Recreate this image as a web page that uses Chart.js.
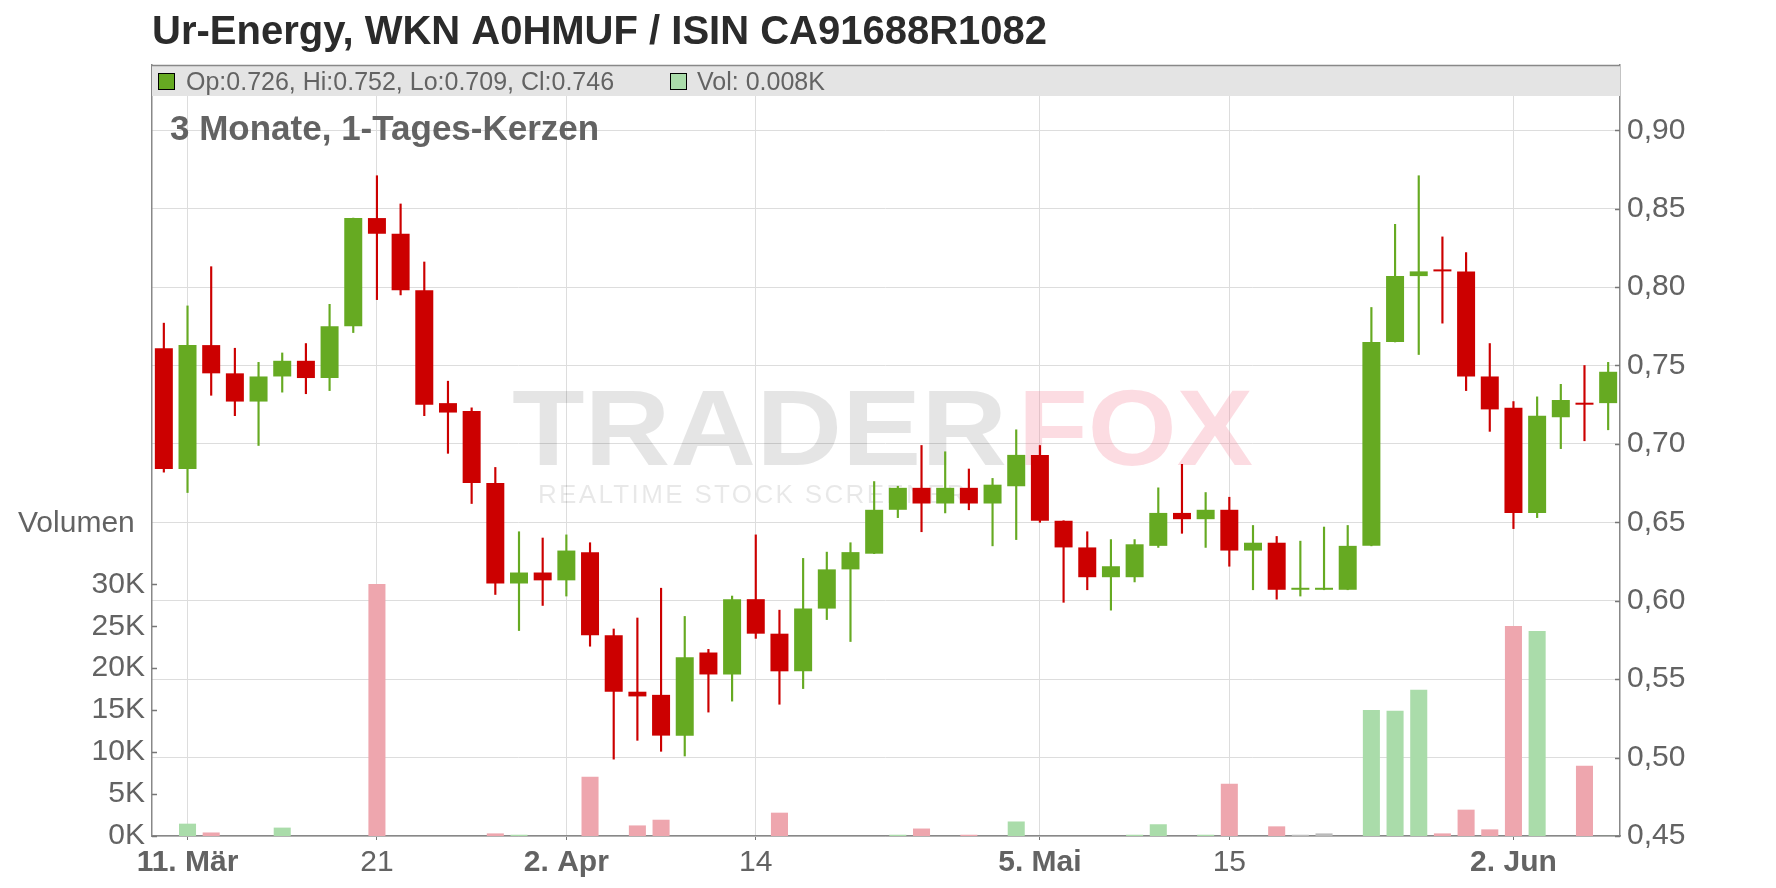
<!DOCTYPE html>
<html>
<head>
<meta charset="utf-8">
<title>Ur-Energy</title>
<script src="https://cdn.jsdelivr.net/npm/chart.js@4.4.1/dist/chart.umd.min.js"></script>
<style>
  html, body { margin: 0; padding: 0; background: #fff; }
  canvas { display: block; }
</style>
</head>
<body>
<canvas id="kurs" width="1776" height="888"></canvas>
<script>
// x-axis labels, one entry per candle ('' = no label)
const xLabels = [
  '', '11. Mär', '', '', '', '', '', '', '', '21', '', '', '', '', '', '', '',
  '2. Apr', '', '', '', '', '', '', '', '14', '', '', '', '', '', '', '', '', '', '', '',
  '5. Mai', '', '', '', '', '', '', '', '15', '', '', '', '', '', '', '', '', '', '', '',
  '2. Jun', '', '', '', ''
];

const open = [
  0.761, 0.684, 0.763, 0.745, 0.727, 0.743, 0.753, 0.742, 0.775, 0.844,
  0.834, 0.798, 0.726, 0.721, 0.675, 0.611, 0.618, 0.613, 0.631, 0.578,
  0.542, 0.540, 0.514, 0.567, 0.553, 0.601, 0.579, 0.555, 0.595, 0.620,
  0.630, 0.658, 0.672, 0.662, 0.672, 0.662, 0.673, 0.693, 0.651, 0.634,
  0.615, 0.615, 0.635, 0.656, 0.652, 0.658, 0.632, 0.637, 0.607, 0.607,
  0.607, 0.635, 0.765, 0.807, 0.811, 0.810, 0.743, 0.723, 0.656, 0.717,
  0.726, 0.726
];
const high = [
  0.777, 0.788, 0.813, 0.761, 0.752, 0.758, 0.764, 0.789, 0.844, 0.871,
  0.853, 0.816, 0.740, 0.723, 0.685, 0.644, 0.640, 0.642, 0.637, 0.582,
  0.589, 0.608, 0.590, 0.569, 0.603, 0.642, 0.594, 0.627, 0.631, 0.637,
  0.676, 0.673, 0.699, 0.695, 0.684, 0.678, 0.709, 0.699, 0.651, 0.644,
  0.639, 0.639, 0.672, 0.687, 0.669, 0.666, 0.648, 0.641, 0.638, 0.647,
  0.648, 0.787, 0.840, 0.871, 0.832, 0.822, 0.764, 0.727, 0.730, 0.738,
  0.750, 0.752
];
const low = [
  0.682, 0.669, 0.731, 0.718, 0.699, 0.733, 0.732, 0.734, 0.771, 0.792,
  0.795, 0.718, 0.694, 0.662, 0.604, 0.581, 0.597, 0.603, 0.571, 0.499,
  0.511, 0.504, 0.501, 0.529, 0.536, 0.576, 0.534, 0.544, 0.588, 0.574,
  0.630, 0.653, 0.644, 0.656, 0.658, 0.635, 0.639, 0.650, 0.599, 0.607,
  0.594, 0.612, 0.634, 0.643, 0.634, 0.622, 0.607, 0.601, 0.603, 0.607,
  0.607, 0.635, 0.765, 0.757, 0.777, 0.734, 0.708, 0.646, 0.653, 0.697,
  0.702, 0.709
];
const close = [
  0.684, 0.763, 0.745, 0.727, 0.743, 0.753, 0.742, 0.775, 0.844, 0.834,
  0.798, 0.725, 0.720, 0.675, 0.611, 0.618, 0.613, 0.632, 0.578, 0.542,
  0.539, 0.514, 0.564, 0.553, 0.601, 0.579, 0.555, 0.595, 0.620, 0.631,
  0.658, 0.672, 0.662, 0.672, 0.662, 0.674, 0.693, 0.651, 0.634, 0.615,
  0.622, 0.636, 0.656, 0.652, 0.658, 0.632, 0.637, 0.607, 0.607, 0.607,
  0.635, 0.765, 0.807, 0.810, 0.810, 0.743, 0.722, 0.656, 0.718, 0.728,
  0.725, 0.746
];
const volume = [
  0, 1470, 420, 0, 0, 1000, 0, 0, 0, 30050,
  0, 0, 0, 0, 310, 150, 0, 0, 7070, 0,
  1260, 1940, 0, 0, 0, 0, 2780, 0, 0, 0,
  0, 150, 890, 0, 150, 0, 1730, 0, 0, 0,
  0, 150, 1400, 0, 150, 6230, 0, 1150, 150, 310,
  0, 15030, 14920, 17440, 310, 3140, 790, 25030, 24450, 0,
  8380, 8
];

// tick values of the two y axes
const priceTicks = [0.45, 0.50, 0.55, 0.60, 0.65, 0.70, 0.75, 0.80, 0.85, 0.90];
const volTicks = [0, 5000, 10000, 15000, 20000, 25000, 30000];

const GRUEN = '#66aa22';
const ROT = '#cc0000';
const FONT = "'Liberation Sans', Arial, sans-serif";
const TEXT = '#636363';

// price axis runs 0.45 .. top of plot, volume axis 0 .. top of plot
const priceMax = 0.9416;
const volMax = 91900;

function candleColor(i) {
  return close[i] < open[i] ? ROT : GRUEN;
}

function volumeColor(i) {
  if (close[i] > open[i]) return '#aadcaa';
  if (close[i] < open[i]) return '#eea6ae';
  return '#bbbbbb';
}

const n = open.length;
const bodies = [], wicks = [], bodyColors = [], volColors = [];
for (let i = 0; i < n; i++) {
  bodies.push([Math.min(open[i], close[i]), Math.max(open[i], close[i])]);
  wicks.push([low[i], high[i]]);
  bodyColors.push(candleColor(i));
  volColors.push(volumeColor(i));
}

const extras = {
  id: 'extras',
  beforeDatasetsDraw(chart) {
    const { ctx, chartArea: a } = chart;
    ctx.save();

    // watermark
    ctx.textBaseline = 'alphabetic';
    ctx.textAlign = 'left';
    ctx.font = 'bold 107px ' + FONT;
    let w = ctx.measureText('TRADER').width;
    ctx.save();
    ctx.translate(512, 465);
    ctx.scale(495 / w, 1);
    ctx.fillStyle = 'rgba(0,0,0,0.10)';
    ctx.fillText('TRADER', 0, 0);
    ctx.restore();
    w = ctx.measureText('FOX').width;
    ctx.save();
    ctx.translate(1018, 465);
    ctx.scale(235 / w, 1);
    ctx.fillStyle = 'rgba(245,130,150,0.28)';
    ctx.fillText('FOX', 0, 0);
    ctx.restore();
    ctx.font = '26px ' + FONT;
    const slogan = 'REALTIME STOCK SCREENER';
    w = ctx.measureText(slogan).width;
    ctx.letterSpacing = ((430 - w) / slogan.length).toFixed(2) + 'px';
    ctx.fillStyle = 'rgba(0,0,0,0.09)';
    ctx.fillText(slogan, 538, 503);
    ctx.letterSpacing = '0px';

    // legend band
    ctx.fillStyle = '#e4e4e4';
    ctx.fillRect(a.left, a.top, a.right - a.left, 31);
    ctx.strokeStyle = '#888';
    ctx.lineWidth = 1.5;
    ctx.beginPath();
    ctx.moveTo(a.left, a.top + 0.5);
    ctx.lineTo(a.right, a.top + 0.5);
    ctx.stroke();

    ctx.lineWidth = 1;
    ctx.strokeStyle = '#000';
    ctx.fillStyle = GRUEN;
    ctx.fillRect(158, 73, 17, 17);
    ctx.strokeRect(158.5, 73.5, 16, 16);
    ctx.fillStyle = '#aadcaa';
    ctx.fillRect(670, 73, 17, 17);
    ctx.strokeRect(670.5, 73.5, 16, 16);

    const last = n - 1;
    ctx.fillStyle = TEXT;
    ctx.font = '25px ' + FONT;
    ctx.fillText('Op:' + open[last].toFixed(3) + ', Hi:' + high[last].toFixed(3) +
      ', Lo:' + low[last].toFixed(3) + ', Cl:' + close[last].toFixed(3), 186, 90);
    ctx.fillText('Vol: ' + (volume[last] / 1000).toFixed(3) + 'K', 697, 90);

    // subtitle
    ctx.font = 'bold 35px ' + FONT;
    ctx.fillText('3 Monate, 1-Tages-Kerzen', 170, 140);

    // volume axis caption
    ctx.font = '30px ' + FONT;
    ctx.fillText('Volumen', 18, 532);

    // small inward tick marks on both y axes
    ctx.strokeStyle = '#777';
    ctx.lineWidth = 1.5;
    const yP = chart.scales.y, yV = chart.scales.yVol;
    ctx.beginPath();
    yP.ticks.forEach(t => {
      const py = Math.round(yP.getPixelForValue(t.value)) + 0.5;
      ctx.moveTo(a.right - 5, py);
      ctx.lineTo(a.right, py);
    });
    yV.ticks.forEach(t => {
      const py = Math.round(yV.getPixelForValue(t.value)) + 0.5;
      ctx.moveTo(a.left, py);
      ctx.lineTo(a.left + 5, py);
    });
    ctx.stroke();

    ctx.restore();
  }
};

Chart.defaults.font.family = FONT;

new Chart(document.getElementById('kurs'), {
  type: 'bar',
  data: {
    labels: xLabels,
    datasets: [
      {
        label: 'Kerzen',
        data: bodies,
        yAxisID: 'y',
        backgroundColor: bodyColors,
        grouped: false,
        barPercentage: 0.76,
        categoryPercentage: 1,
        minBarLength: 2,
        order: 0
      },
      {
        label: 'Dochte',
        data: wicks,
        yAxisID: 'y',
        backgroundColor: bodyColors,
        grouped: false,
        barThickness: 1.5,
        order: 1
      },
      {
        label: 'Volumen',
        data: volume,
        yAxisID: 'yVol',
        backgroundColor: volColors,
        grouped: false,
        barPercentage: 0.72,
        categoryPercentage: 1,
        order: 2
      }
    ]
  },
  options: {
    responsive: false,
    animation: false,
    layout: { padding: 0 },
    plugins: {
      legend: { display: false },
      tooltip: { enabled: false },
      title: {
        display: true,
        text: 'Ur-Energy, WKN A0HMUF / ISIN CA91688R1082',
        align: 'start',
        fullSize: false,
        color: '#2b2b2b',
        font: { size: 40, weight: 'bold', lineHeight: 1.2 },
        padding: { top: 9, bottom: 8 }
      }
    },
    scales: {
      x: {
        offset: true,
        grid: { offset: false, color: '#dddddd', tickColor: '#777', tickLength: 4 },
        border: { color: '#888', width: 1.5 },
        ticks: {
          autoSkip: false,
          maxRotation: 0,
          padding: 5,
          color: TEXT,
          font: c => ({ size: 30, weight: c.tick && c.tick.label.indexOf('.') > 0 ? 'bold' : 'normal' })
        },
        afterBuildTicks: s => { s.ticks = s.ticks.filter(t => xLabels[t.value] !== ''); },
        afterFit: s => { s.height = 52; }
      },
      y: {
        position: 'right',
        min: 0.45,
        max: priceMax,
        grid: { color: '#dddddd', drawTicks: false },
        border: { color: '#888', width: 1.5 },
        ticks: {
          padding: 7,
          color: TEXT,
          font: { size: 30 },
          callback: v => v.toFixed(2).replace('.', ',')
        },
        afterBuildTicks: s => { s.ticks = priceTicks.map(v => ({ value: v })); },
        afterFit: s => { s.width = 156; }
      },
      yVol: {
        position: 'left',
        min: 0,
        max: volMax,
        grid: { display: false, drawTicks: false },
        border: { color: '#888', width: 1.5 },
        ticks: {
          padding: 7,
          color: TEXT,
          font: { size: 30 },
          callback: v => (v / 1000) + 'K'
        },
        afterBuildTicks: s => { s.ticks = volTicks.map(v => ({ value: v })); },
        afterFit: s => { s.width = 152; }
      }
    }
  },
  plugins: [extras]
});
</script>
</body>
</html>
